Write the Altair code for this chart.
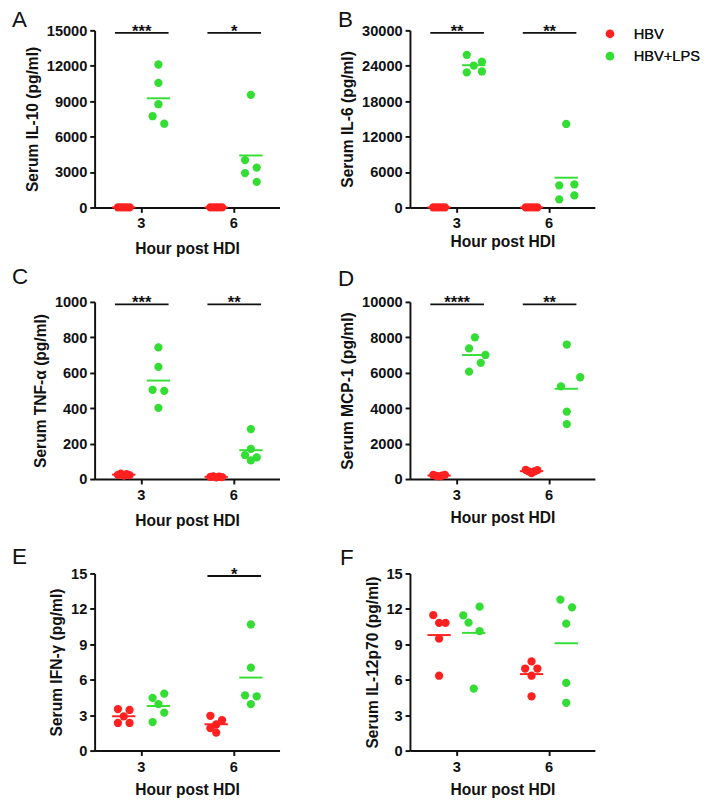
import altair as alt
import pandas as pd

FONT = "Liberation Sans"
HOURS = ["3", "6"]
GROUPS = ["HBV", "HBV+LPS"]
COLORS = ["#ff2020", "#33dd33"]

# ---- values (pg/ml) ----
IL10_HBV_3 = [15, 10, 20, 12, 18]
IL10_LPS_3 = [12110, 10560, 8745, 7728, 7095]
IL10_HBV_6 = [10, 15, 12, 20, 8]
IL10_LPS_6 = [9543, 4015, 3383, 2915, 2173]

IL6_HBV_3 = [30, 20, 40, 25, 35]
IL6_LPS_3 = [25857, 24034, 24697, 22874, 23039]
IL6_HBV_6 = [20, 30, 15, 25, 35]
IL6_LPS_6 = [14144, 3757, 3923, 2044, 1381]

TNF_HBV_3 = [24, 30, 20, 28, 22]
TNF_LPS_3 = [743, 633, 504, 498, 402]
TNF_HBV_6 = [12, 15, 10, 14, 11]
TNF_LPS_6 = [282, 170, 135, 122, 105]

MCP_HBV_3 = [230, 180, 150, 190, 240]
MCP_LPS_3 = [8002, 7374, 7004, 6560, 6061]
MCP_HBV_6 = [520, 430, 330, 440, 500]
MCP_LPS_6 = [7595, 5747, 5230, 3807, 3105]

IFN_HBV_3 = [3.52, 3.44, 2.90, 2.34, 2.34]
IFN_LPS_3 = [4.46, 4.82, 3.94, 3.22, 2.42]
IFN_HBV_6 = [2.95, 2.57, 2.21, 1.90, 1.52]
IFN_LPS_6 = [10.68, 7.02, 4.68, 4.60, 3.94]

IL12_HBV_3 = [11.47, 10.81, 10.81, 9.48, 6.34]
IL12_LPS_3 = [11.45, 10.84, 12.19, 10.12, 5.25]
IL12_HBV_6 = [7.55, 6.95, 6.95, 6.34, 4.60]
IL12_LPS_6 = [12.79, 12.13, 10.75, 5.73, 4.05]

# horizontal scatter slot of each dot (as in the figure)
ROW = [-1, -0.5, 0, 0.5, 1]
IL10_J = [ROW, [0, 0, 0, -1, 1], ROW, [0, -1, 1, -1, 1]]
IL6_J = [ROW, [-1.2, 0, 1.4, -1.2, 1.4], ROW, [0, -1.2, 1.4, 1.4, -1.2]]
TNF_J = [ROW, [0, 0, -1, 1, 0], ROW, [0, 0, -1, 1, 0]]
MCP_J = [ROW, [0.2, -0.8, 2, 1.2, -0.8], ROW, [0.1, 2.4, -0.9, 0.1, 0.1]]
IFN_J = [[-1, 1, 0, -1, 1], [-1, 1, 0, 1, -1], [-1, 1, 0, -1, 0], [0, 0, -1, 1, 0]]
IL12_J = [[-1, 0, 1.1, 0, 0], [-1.8, -0.9, 1, 1, 0], [0, -1.1, 1, 0, 0], [-1, 1, 0, 0, 0]]

# significance (hour index, stars)
IL10_SIG = [(0, "***"), (1, "*")]
IL6_SIG = [(0, "**"), (1, "**")]
TNF_SIG = [(0, "***"), (1, "**")]
MCP_SIG = [(0, "****"), (1, "**")]
IFN_SIG = [(1, "*")]
IL12_SIG = []

GROUP_OFF = [-0.185, 0.19]
STEP = 0.063
HALF = 0.126


def build(series, jit, sig, ymax):
    pts, means = [], []
    k = 0
    for h in range(2):
        for g in range(2):
            vals = series[k]
            js = jit[k]
            k += 1
            c = h + 0.5 + GROUP_OFF[g]
            for v, j in zip(vals, js):
                pts.append({"x": c + j * STEP, "y": v, "group": GROUPS[g]})
            means.append({"x": c - HALF, "x2": c + HALF,
                          "y": sum(vals) / len(vals), "group": GROUPS[g]})
    sigs = [{"x": h + 0.5 - 0.28, "x2": h + 0.5 + 0.30, "xc": h + 0.51,
             "y": ymax * 0.986, "stars": s} for h, s in sig]
    return pd.DataFrame(pts), pd.DataFrame(means), pd.DataFrame(sigs)


def panel(series, jit, sig, letter, ytitle, ymax, ystep, xtpad, ltr_dx, ltr_dy,
          legend=False):
    pts, means, sigs = build(series, jit, sig, ymax)
    xenc = alt.X("x:Q", scale=alt.Scale(domain=[0, 2], nice=False, zero=False),
                 axis=alt.Axis(values=[0.5, 1.5],
                               labelExpr="datum.value < 1 ? '" + HOURS[0] + "' : '" + HOURS[1] + "'",
                               title="Hour post HDI", titlePadding=xtpad, labelPadding=4))
    yenc = alt.Y("y:Q", scale=alt.Scale(domain=[0, ymax], nice=False),
                 axis=alt.Axis(values=list(range(0, ymax + 1, ystep)), format="d",
                               title=ytitle, titlePadding=6, labelPadding=3))
    if legend:
        leg = alt.Legend(orient="none", legendX=198, legendY=-4, title=None,
                         labelFontSize=15, labelFont=FONT, labelFontWeight="normal",
                         labelColor="#111", symbolType="circle", symbolSize=80,
                         symbolStrokeWidth=0, labelOffset=17, rowPadding=7, padding=0)
    else:
        leg = None
    cenc = alt.Color("group:N", scale=alt.Scale(domain=GROUPS, range=COLORS), legend=leg)
    layers = [
        alt.Chart(pts).mark_circle(size=72, opacity=1).encode(x=xenc, y=yenc, color=cenc),
        alt.Chart(means).mark_rule(strokeWidth=2).encode(x=xenc, x2="x2:Q", y=yenc, color=cenc),
    ]
    if len(sigs):
        layers.append(alt.Chart(sigs).mark_rule(strokeWidth=2, color="#111")
                      .encode(x=xenc, x2="x2:Q", y=yenc))
        layers.append(alt.Chart(sigs).mark_text(fontSize=17, fontWeight="bold", font=FONT,
                                                baseline="alphabetic", dy=4, color="#111")
                      .encode(x=alt.X("xc:Q", scale=alt.Scale(domain=[0, 2], nice=False, zero=False)),
                              y=yenc, text="stars:N"))
    return alt.layer(*layers).properties(
        width=190, height=182,
        title=alt.TitleParams(letter, anchor="start", frame="group", fontSize=23,
                              fontWeight="normal", font=FONT, color="#111",
                              baseline="alphabetic", dx=ltr_dx, dy=ltr_dy, offset=0),
    ).resolve_scale(color="independent")


pA = panel([IL10_HBV_3, IL10_LPS_3, IL10_HBV_6, IL10_LPS_6], IL10_J, IL10_SIG, "A",
           "Serum IL-10 (pg/ml)", 15000, 3000, 10, -85, 27)
pB = panel([IL6_HBV_3, IL6_LPS_3, IL6_HBV_6, IL6_LPS_6], IL6_J, IL6_SIG, "B",
           "Serum IL-6 (pg/ml)", 30000, 6000, 3, -74, 27, legend=True)
pC = panel([TNF_HBV_3, TNF_LPS_3, TNF_HBV_6, TNF_LPS_6], TNF_J, TNF_SIG, "C",
           "Serum TNF-α (pg/ml)", 1000, 200, 11, -85, 12)
pD = panel([MCP_HBV_3, MCP_LPS_3, MCP_HBV_6, MCP_LPS_6], MCP_J, MCP_SIG, "D",
           "Serum MCP-1 (pg/ml)", 10000, 2000, 8, -74, 14)
pE = panel([IFN_HBV_3, IFN_LPS_3, IFN_HBV_6, IFN_LPS_6], IFN_J, IFN_SIG, "E",
           "Serum IFN-γ (pg/ml)", 15, 3, 8, -85, 21)
pF = panel([IL12_HBV_3, IL12_LPS_3, IL12_HBV_6, IL12_LPS_6], IL12_J, IL12_SIG, "F",
           "Serum IL-12p70 (pg/ml)", 15, 3, 8, -72, 21)

chart = alt.concat(pA, pB, pC, pD, pE, pF, columns=2).properties(
    spacing={"row": 97, "column": 134}, bounds="flush", background="white",
    padding={"left": 4, "top": -10, "right": 0, "bottom": 0},
).resolve_scale(color="independent").configure_view(stroke=None).configure_axis(
    grid=False, domainColor="#111", domainWidth=2, tickColor="#111", tickWidth=2, tickSize=5,
    labelFont=FONT, labelFontSize=15, labelFontWeight="bold", labelColor="#111",
    titleFont=FONT, titleFontSize=16, titleFontWeight="bold", titleColor="#111",
)

chart.save("out.html", embed_options={"renderer": "svg", "actions": False})
